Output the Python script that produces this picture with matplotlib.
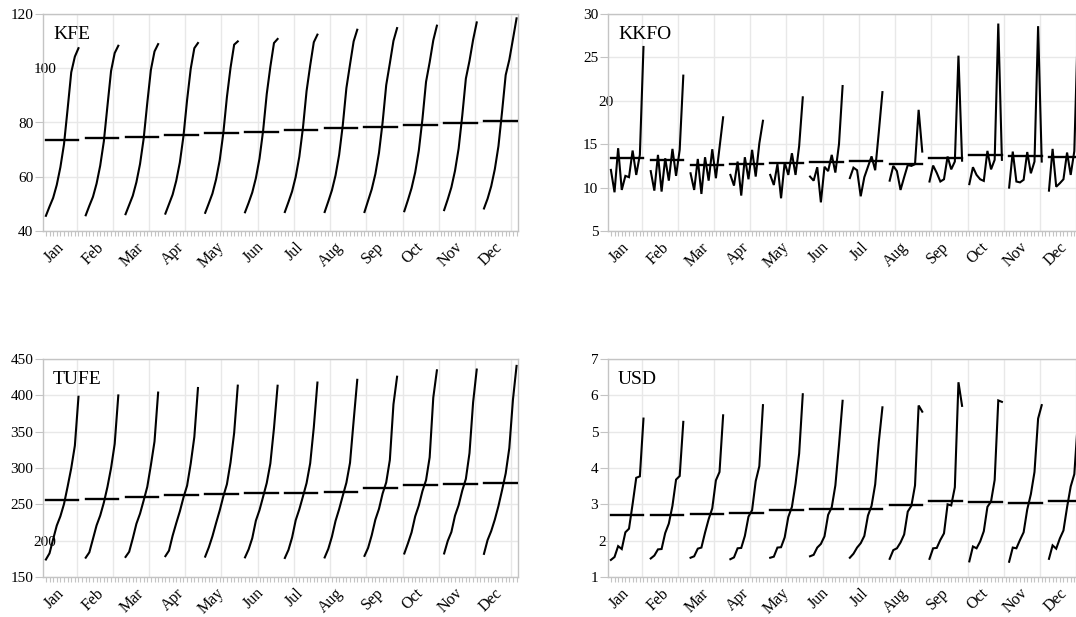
import numpy as np
import matplotlib.pyplot as plt
from matplotlib.ticker import FixedLocator

plt.rcParams['font.family'] = ['Liberation Serif', 'DejaVu Serif']

months = ['Jan', 'Feb', 'Mar', 'Apr', 'May', 'Jun',
          'Jul', 'Aug', 'Sep', 'Oct', 'Nov', 'Dec']
years = list(range(2010, 2020))

# one row per year, Jan..Dec
kfe = [
    [45.6, 45.8, 46.2, 46.4, 46.7, 46.9, 47.0, 47.0, 47.0, 47.3, 47.7, 48.3],
    [49.0, 49.3, 49.6, 49.9, 50.2, 50.4, 50.7, 50.9, 51.2, 51.4, 51.7, 51.9],
    [52.2, 52.6, 53.0, 53.4, 53.8, 54.2, 54.6, 55.0, 55.4, 55.8, 56.1, 56.5],
    [57.0, 57.5, 58.0, 58.5, 59.0, 59.5, 60.0, 60.5, 61.0, 61.6, 62.2, 62.8],
    [63.5, 64.1, 64.7, 65.3, 66.0, 66.7, 67.4, 68.1, 68.8, 69.6, 70.4, 71.3],
    [72.0, 73.0, 74.0, 75.0, 76.0, 77.0, 78.0, 79.0, 80.0, 81.2, 82.5, 84.0],
    [85.0, 86.1, 87.2, 88.3, 89.4, 90.5, 91.6, 92.7, 93.8, 95.0, 96.2, 97.5],
    [98.5, 99.0, 99.4, 99.8, 100.2, 100.6, 101.0, 101.4, 101.8, 102.2, 102.7, 103.1],
    [104.3, 105.6, 106.2, 107.4, 108.7, 109.3, 109.6, 109.9, 110.1, 110.3, 110.5, 110.7],
    [107.4, 108.3, 108.9, 109.3, 109.9, 110.8, 112.4, 114.2, 114.8, 115.7, 116.9, 118.4],
]

kkfo = [
    [12.04, 11.90, 11.65, 11.46, 11.46, 11.27, 11.10, 10.80, 10.70, 10.40, 10.00, 9.65],
    [9.46, 9.65, 9.73, 10.23, 10.30, 10.80, 12.30, 12.50, 12.54, 12.35, 14.15, 14.46],
    [14.54, 13.77, 13.30, 13.00, 12.70, 12.35, 12.00, 11.90, 11.70, 11.46, 10.70, 10.10],
    [9.73, 9.54, 9.27, 9.08, 8.77, 8.30, 9.00, 9.73, 10.70, 10.96, 10.60, 10.50],
    [11.35, 13.38, 13.50, 13.50, 12.90, 12.40, 11.20, 11.20, 10.96, 10.77, 10.90, 10.96],
    [11.20, 10.80, 10.80, 10.96, 11.46, 11.90, 12.40, 12.60, 13.58, 14.23, 14.10, 14.04],
    [14.27, 14.46, 14.42, 14.35, 13.96, 13.77, 13.60, 12.50, 12.10, 12.10, 11.65, 11.46],
    [11.46, 11.35, 11.08, 11.27, 11.46, 11.73, 12.00, 12.70, 13.00, 13.20, 13.00, 14.20],
    [13.77, 14.35, 14.60, 15.10, 14.80, 15.00, 16.40, 18.96, 25.20, 28.90, 28.60, 28.80],
    [26.20, 22.90, 18.10, 17.70, 20.40, 21.70, 21.00, 14.15, 13.10, 13.20, 13.00, 11.60],
]

tufe = [
    [174.07, 176.59, 177.62, 178.68, 178.04, 177.04, 176.19, 176.90, 179.07, 182.35, 182.40, 181.85],
    [182.60, 183.93, 184.70, 186.30, 190.81, 188.08, 187.31, 188.67, 190.09, 196.31, 199.70, 200.85],
    [201.98, 202.42, 203.10, 206.73, 206.10, 203.42, 204.32, 205.43, 207.55, 211.34, 211.90, 213.23],
    [220.78, 221.09, 223.29, 223.98, 224.12, 227.61, 228.14, 227.16, 228.90, 233.44, 234.40, 229.01],
    [233.54, 234.54, 237.18, 240.37, 241.32, 242.07, 243.17, 243.40, 243.73, 248.37, 248.82, 247.72],
    [250.45, 252.24, 255.23, 259.39, 260.85, 260.50, 260.86, 261.76, 264.77, 268.10, 268.85, 269.54],
    [274.40, 273.96, 274.05, 275.69, 277.69, 279.33, 279.20, 279.74, 280.20, 283.29, 284.99, 292.54],
    [299.74, 300.04, 303.96, 306.04, 307.69, 306.26, 306.48, 307.13, 310.99, 314.70, 320.49, 327.41],
    [330.75, 333.17, 336.48, 342.78, 348.34, 354.85, 356.04, 364.85, 387.67, 396.90, 390.40, 393.88],
    [398.07, 399.87, 403.80, 410.08, 413.34, 413.23, 417.59, 421.36, 425.64, 434.41, 435.47, 440.50],
]

usd = [
    [1.47, 1.51, 1.53, 1.49, 1.53, 1.57, 1.53, 1.50, 1.50, 1.43, 1.42, 1.50],
    [1.55, 1.59, 1.57, 1.54, 1.56, 1.61, 1.64, 1.74, 1.79, 1.84, 1.81, 1.87],
    [1.85, 1.76, 1.78, 1.79, 1.81, 1.81, 1.81, 1.79, 1.80, 1.79, 1.79, 1.78],
    [1.77, 1.77, 1.81, 1.80, 1.82, 1.91, 1.93, 1.95, 2.02, 1.98, 2.02, 2.06],
    [2.23, 2.21, 2.22, 2.13, 2.09, 2.12, 2.13, 2.17, 2.20, 2.26, 2.23, 2.28],
    [2.33, 2.47, 2.59, 2.66, 2.65, 2.71, 2.69, 2.80, 3.00, 2.93, 2.86, 2.92],
    [3.01, 2.96, 2.89, 2.84, 2.93, 2.92, 2.96, 2.96, 2.97, 3.08, 3.28, 3.49],
    [3.73, 3.68, 3.66, 3.64, 3.57, 3.52, 3.55, 3.52, 3.47, 3.67, 3.89, 3.83],
    [3.77, 3.78, 3.89, 4.05, 4.40, 4.63, 4.72, 5.72, 6.36, 5.86, 5.36, 5.30],
    [5.36, 5.27, 5.45, 5.73, 6.03, 5.85, 5.67, 5.55, 5.71, 5.82, 5.73, 5.86],
]

# name, data, y ticks, tick label drawn left-aligned, axes rect in pixels (l, t, r, b)
panels = [
    ('KFE', kfe, [40, 60, 80, 100, 120], '100', (43, 14, 518, 231)),
    ('KKFO', kkfo, [5, 10, 15, 20, 25, 30], '20', (608, 14, 1083, 231)),
    ('TUFE', tufe, [150, 200, 250, 300, 350, 400, 450], '200', (43, 359, 518, 577)),
    ('USD', usd, [1, 2, 3, 4, 5, 6, 7], '2', (608, 359, 1083, 577)),
]

W, H = 1076, 617
fig = plt.figure(figsize=(W / 100, H / 100), dpi=100)

n_years = len(years)
step = n_years + 1          # one empty slot between months
n_slots = step * len(months)
frame_col = '#c4c4c4'
grid_col = '#e8e8e8'

for name, data, yticks, odd_label, (l, t, r, b) in panels:
    ax = fig.add_axes([l / W, 1 - b / H, (r - l) / W, (b - t) / H])
    vals = np.array(data)

    for m in range(len(months)):
        xs = m * step + np.arange(n_years)
        ys = vals[:, m]
        ax.plot(xs, ys, color='black', lw=1.5, solid_joinstyle='miter', zorder=3)
        ax.plot([xs[0], xs[-1]], [ys.mean()] * 2, color='black', lw=1.7, zorder=3)

    ax.set_xlim(-0.8, n_slots - 1.6)
    ax.set_ylim(yticks[0], yticks[-1])

    # vertical grid every ten observations
    for g in np.arange(n_years - 1.5, n_slots, 10):
        ax.axvline(g, color=grid_col, lw=1, zorder=0)
    ax.set_yticks(yticks)
    ax.set_yticklabels([str(v) for v in yticks])
    ax.yaxis.grid(True, color=grid_col, lw=1, zorder=0)
    ax.set_axisbelow(True)

    ax.set_xticks([m * step + (n_years - 1) / 2 for m in range(len(months))])
    ax.set_xticklabels(months, rotation=45, ha='right', va='center',
                       rotation_mode='anchor', fontsize=11.5)
    ax.xaxis.set_minor_locator(FixedLocator(np.arange(n_slots - 1)))
    ax.tick_params(axis='x', which='major', length=0, pad=10)
    ax.tick_params(axis='x', which='minor', length=3.8, width=0.8, color=frame_col)
    ax.tick_params(axis='y', length=6, width=0.8, color=frame_col, pad=1,
                   labelsize=11)

    for lbl in ax.get_yticklabels():
        if lbl.get_text() == odd_label:
            lbl.set_horizontalalignment('left')

    for sp in ax.spines.values():
        sp.set_color(frame_col)
        sp.set_linewidth(1)

    ax.text(0.021, 0.945, name, transform=ax.transAxes, ha='left', va='top',
            fontsize=14)

fig.savefig('out.png', dpi=100)
